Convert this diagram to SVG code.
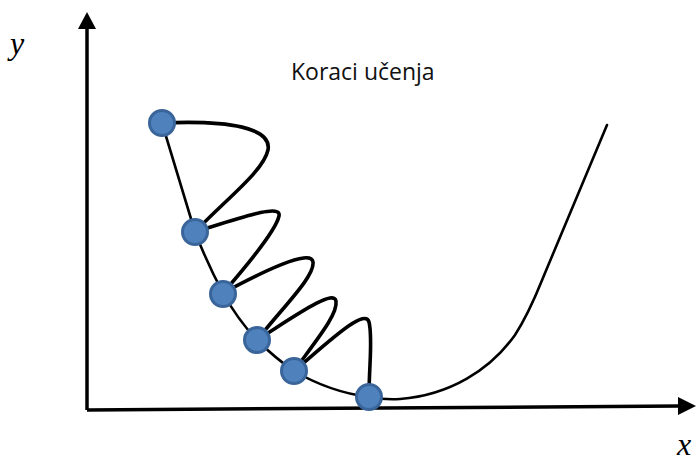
<svg xmlns="http://www.w3.org/2000/svg" width="699" height="463" viewBox="0 0 699 463">
<defs>
<style>
.axis{stroke:#000;stroke-width:3.5;fill:none}
.curve{stroke:#000;stroke-width:2.6;fill:none;stroke-linejoin:round;stroke-linecap:round}
.loop{stroke:#000;stroke-width:3.6;fill:none;stroke-linejoin:round;stroke-linecap:round}
.pt{fill:#4F81BD;stroke:#3A659A;stroke-width:3}
.lbl{font-family:"Open Sans","Liberation Sans",sans-serif;font-size:23px;fill:#111}
.var{font-family:"Liberation Serif","DejaVu Serif",serif;font-style:italic;font-size:32px;fill:#000}
</style>
</defs>
<rect width="699" height="463" fill="#fff"/>
<g id="axes">
<line class="axis" x1="87" y1="410" x2="87" y2="26"/>
<polygon points="87,12 78,29 96,29" fill="#000"/>
<line class="axis" x1="87" y1="410" x2="680" y2="406"/>
<polygon points="696,406 678,397 678,415" fill="#000"/>
</g>
<g id="labels">
<text class="var" x="10" y="54">y</text>
<text class="var" x="677" y="455" font-size="29">x</text>
<text class="lbl" x="291" y="80">Koraci učenja</text>
</g>
<g id="connectors">
<path class="curve" d="M162,123 L195,232 Q208,265 223,293 Q238,320 257,340 Q275,358 294,371 Q330,392 369,397 Q385,400 400,399 C450,395 490,370 515,335 C530,312 538,290 545,273 L607,125"/>
<path class="loop" d="M162,123 C230,120 272,128 268,150 C263,172 225,200 195,232"/>
<path class="loop" d="M195,232 C240,218 282,203 279,216 C276,230 250,262 223,293"/>
<path class="loop" d="M223,293 C262,272 311,248 313,262 C315,276 285,305 257,340"/>
<path class="loop" d="M257,340 C292,318 334,288 336,301 C338,314 318,338 294,371"/>
<path class="loop" d="M294,371 C322,348 365,306 369,322 C373,338 369,365 369,397"/>
</g>
<g id="n1"><circle class="pt" cx="162" cy="123" r="12.5"/></g>
<g id="n2"><circle class="pt" cx="195" cy="232" r="12.5"/></g>
<g id="n3"><circle class="pt" cx="223" cy="294" r="12.5"/></g>
<g id="n4"><circle class="pt" cx="257" cy="340" r="12.5"/></g>
<g id="n5"><circle class="pt" cx="294" cy="371" r="12.5"/></g>
<g id="n6"><circle class="pt" cx="369" cy="397" r="12.5"/></g>
</svg>
